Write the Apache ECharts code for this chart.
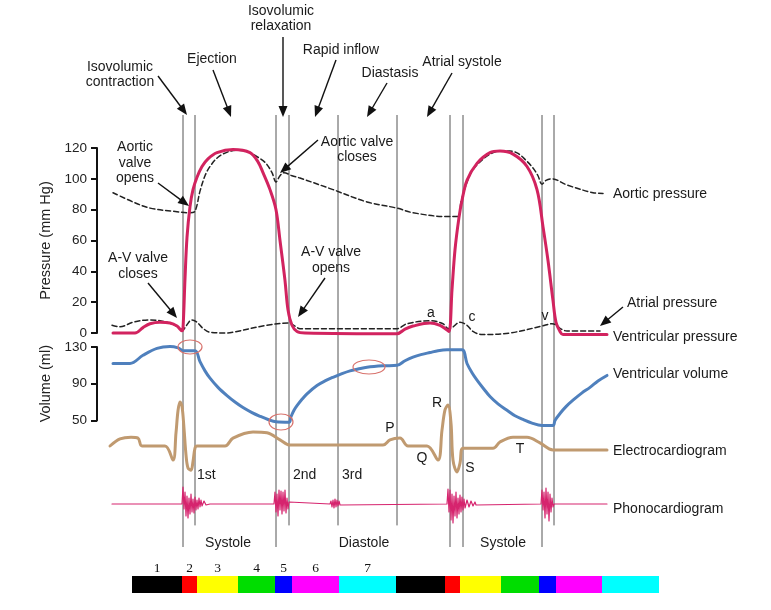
<!DOCTYPE html>
<html><head><meta charset="utf-8">
<script src="https://cdn.jsdelivr.net/npm/echarts@6/dist/echarts.min.js"></script>
<style>html,body{margin:0;padding:0;background:#fff}#c{width:771px;height:610px}</style>
</head><body><div id="c"></div>
<script>
// ---- DATA (time in arbitrary units along the cycle) ----
const ventricularPressure = [[113,0],[135,0],[143,3.5],[150,6],[160,7],[170,6.5],[177,4.5],[182,1.5],[183,3],[185,35],[187,62],[190,82],[193,93],[197,101],[202,108],[208,113],[217,117],[233,119],[250,117],[258,111],[263,104],[270,93],[276,80],[280,60],[285,34],[288,15],[292,5],[297,1],[305,0],[397,-0.5],[405,2.5],[413,4.5],[430,6.5],[440,5],[446,2.5],[449,1],[452,28],[455,54],[459,75],[462,86],[467,99],[477,110],[490,117],[500,118],[513,116],[527,108],[537,93],[543,69],[548,47],[553,21],[556,7],[560,1],[563,-1],[607,-1]];
const aorticPressure = [[113,91],[133,85],[150,81],[173,79],[190,78],[195,79],[200,92],[205,102],[210,108],[218,114],[228,117.5],[238,118.5],[248,117.5],[258,114],[266,110],[272,104],[276,98],[280,102],[284,104],[292,102],[300,100.5],[333,93],[367,85],[397,81],[413,78],[447,75.5],[458,75.5],[461,85],[466,96],[472,105],[480,111],[490,116],[500,118],[510,118],[518,116.5],[526,112],[533,107],[538,102],[542,96.5],[546,99],[552,100],[567,96],[593,91],[603,90.5]];
const atrialPressure = [[112,5],[120,4],[133,7],[150,8.5],[167,7],[178,4],[183,2],[186,4.5],[192,8.5],[197,7],[203,3],[210,0.5],[227,0],[233,0.5],[267,5],[289,6.5],[295,4.5],[300,2.8],[397,2.8],[407,6],[430,8],[443,6],[448,3],[452,3.5],[460,7],[467,5],[473,1],[482,-1],[510,0],[542,4.5],[552,6],[557,5],[560,3],[567,1.3],[600,1.3]];
const ventricularVolume = [[113,112],[130,112],[143,121],[157,128.5],[170,130.5],[178,129],[183,126],[195,126],[200,114],[205,104],[210,96],[218,86],[227,77],[235,70],[243,64],[252,58.5],[260,54.5],[268,51],[276,48.5],[289,48],[291,54],[294,61],[297,66],[302,73],[307,79],[317,88],[325,93],[333,97],[342,101],[350,104],[358,106],[367,108],[383,109.5],[397,110],[405,115],[413,119],[422,122],[430,124],[438,126],[447,127],[462,127],[467,112],[472,102],[477,94],[484,84],[490,76],[498,68],[507,61],[515,55],[523,51],[532,47],[542,44.5],[553,44.5],[555,50],[560,57.5],[566,65],[573,72],[582,80],[590,86],[598,93],[607,99]];
const electrocardiogram = [[110,0],[120,0.16],[131,0.2],[138,0.18],[142,0],[165,0],[173,-0.32],[176,0.3],[178,0.8],[180,1.0],[182,0.9],[184,0.4],[186,-0.2],[188,-0.5],[191,-0.55],[193,-0.35],[195,-0.05],[197,0],[225,0],[233,0.18],[253,0.32],[267,0.3],[280,0.14],[290,0.02],[383,0.02],[390,0.14],[400,0.18],[408,0],[427,0],[438,-0.32],[442,0.36],[445,0.82],[448,0.93],[451,0.52],[453,-0.32],[457,-0.59],[460,-0.39],[463,-0.05],[493,-0.05],[500,0.09],[513,0.2],[527,0.2],[540,0.07],[553,-0.09],[607,-0.09]];
const phonocardiogram = [[112,0],[182,0],[183,17],[184,-5],[185,12],[186,-12],[187,8],[188,-14],[189,6],[190,-10],[191,10],[192,-8],[193,5],[194,-9],[195,7],[196,-6],[197,4],[198,-5],[199,6],[200,-3],[201,4],[202,-2],[204,3],[206,-1],[208,1],[210,0],[274,0],[275,12],[276,-8],[277,10],[278,-12],[279,14],[280,-6],[281,13],[282,-10],[283,12],[284,-7],[285,14],[286,-9],[287,6],[288,-5],[289,2],[290,0],[330,0],[331,3],[332,-3],[333,4],[334,-4],[335,5],[336,-3],[337,4],[338,-2],[339,3],[340,-1],[342,0],[447,0],[448,15],[449,-8],[450,14],[451,-16],[452,10],[453,-19],[454,8],[455,-12],[456,12],[457,-14],[458,6],[459,-10],[460,9],[461,-8],[462,7],[463,-6],[464,5],[465,-4],[467,4],[469,-3],[471,3],[473,-2],[475,2],[476,-1],[477,0],[541,0],[542,14],[543,-6],[544,12],[545,-14],[546,16],[547,-10],[548,12],[549,-17],[550,10],[551,-8],[552,6],[553,-3],[554,0],[607,0]];
const eventTimes = [183,195,276,289,338,397,450,463,542,554];
const eventLineBottom = [0,0.05,0,0.05,0.05,0.05,0,0,0,0.05];
const phaseStart = [132,182,197,238,275,292,339,396,445,460,501,539,556,602];
const phaseEnd   = [182,197,238,275,292,339,396,445,460,501,539,556,602,659];
const phaseNumber = [1,2,3,4,5,6,7,1,2,3,4,5,6,7];
const phaseColors = ['#000000','#ff0000','#ffff00','#00dd00','#0000ff','#ff00ff','#00ffff'];
const pressureTicks = {min:0, max:120, interval:20};
const volumeTicks = {min:50, max:130, interval:40};

// ---- CHART ----
const FONT = '"Liberation Sans", Arial, sans-serif';
const chart = echarts.init(document.getElementById('c'), null, {renderer:'canvas'});
const grids = [
  {left:0,right:0,top:148,height:185},
  {left:0,right:0,top:347,height:73.4},
  {left:0,right:0,top:397.6,height:79.2},
  {left:0,right:0,top:484,height:40},
  {left:0,right:0,top:576,height:17},
  {left:0,right:0,top:115,height:432}
];
const xAxes = grids.map((g,i)=>({type:'value',gridIndex:i,min:0,max:771,show:false}));
function visibleY(i, t, name){
  return {type:'value',gridIndex:i,min:t.min,max:t.max,interval:t.interval,offset:-97,
    axisLine:{show:true,onZero:false,lineStyle:{color:'#111',width:2}},
    axisTick:{show:true,length:6,lineStyle:{color:'#111',width:2}},
    axisLabel:{fontSize:13.5,color:'#222',margin:10,fontFamily:FONT},
    splitLine:{show:false},
    name:name,nameLocation:'middle',nameGap:36,
    nameTextStyle:{fontSize:14.5,color:'#222',fontFamily:FONT}};
}
const yAxes = [
  visibleY(0, pressureTicks, 'Pressure (mm Hg)'),
  visibleY(1, volumeTicks, 'Volume (ml)'),
  {type:'value',gridIndex:2,min:-0.7,max:1.1,show:false},
  {type:'value',gridIndex:3,min:-20,max:20,show:false},
  {type:'value',gridIndex:4,min:0,max:1,show:false},
  {type:'value',gridIndex:5,min:0,max:1,show:false}
];

function lineSeries(name, data, gi, color, width, dashed, smooth){
  return {type:'line',name:name,data:data,xAxisIndex:gi,yAxisIndex:gi,showSymbol:false,symbol:'none',
    clip:false,smooth:smooth,z:3,silent:true,
    lineStyle:{color:color,width:width,type:dashed?[5,3]:'solid',cap:'round',join:'round'}};
}

const series = [
  {type:'custom',name:'events',xAxisIndex:5,yAxisIndex:5,z:1,silent:true,clip:false,
   data:eventTimes.map((t,i)=>[t,eventLineBottom[i]]),
   renderItem:(p,api)=>{const a=api.coord([api.value(0),1]);const b=api.coord([api.value(0),api.value(1)]);
     return {type:'line',shape:{x1:a[0],y1:a[1],x2:b[0],y2:b[1]},style:{stroke:'#555',lineWidth:1}};}},
  lineSeries('Aortic pressure', aorticPressure, 0, '#222', 1.5, true, 0.35),
  lineSeries('Atrial pressure', atrialPressure, 0, '#222', 1.5, true, 0.35),
  lineSeries('Ventricular pressure', ventricularPressure, 0, '#d2235f', 3, false, 0.35),
  lineSeries('Ventricular volume', ventricularVolume, 1, '#4f80bd', 3, false, 0.35),
  lineSeries('Electrocardiogram', electrocardiogram, 2, '#c09a70', 3, false, 0.35),
  lineSeries('Phonocardiogram', phonocardiogram, 3, '#d6246e', 1.2, false, false),
  {type:'custom',name:'phases',xAxisIndex:4,yAxisIndex:4,z:2,silent:true,clip:false,
   data:phaseStart.map((s,i)=>[s,phaseEnd[i],phaseNumber[i],i<7?1:0]),
   renderItem:(p,api)=>{
     const a=api.coord([api.value(0),1]);const b=api.coord([api.value(1),0]);
     const n=api.value(2);
     const children=[{type:'rect',shape:{x:a[0],y:a[1],width:b[0]-a[0],height:b[1]-a[1]},style:{fill:phaseColors[n-1]}}];
     if(api.value(3)){children.push({type:'text',x:(a[0]+b[0])/2,y:a[1]-8,
       style:{text:String(n),font:'13.5px "Liberation Serif", serif',fill:'#111',align:'center',verticalAlign:'middle',textAlign:'center',textVerticalAlign:'middle'}});}
     return {type:'group',children:children};
   }}
];

// ---- annotations ----
function txt(s,x,y,align){return {type:'text',x:x,y:y,silent:true,z:10,
  style:{text:s,font:'14px '+FONT,fill:'#1a1a1a',align:align||'center',verticalAlign:'middle',textAlign:align||'center',textVerticalAlign:'middle'}};}
function arrow(x1,y1,x2,y2){
  const dx=x2-x1,dy=y2-y1,L=Math.hypot(dx,dy),ux=dx/L,uy=dy/L,hl=11,hw=4.5;
  const bx=x2-ux*hl,by=y2-uy*hl;
  return [{type:'line',silent:true,z:10,shape:{x1:x1,y1:y1,x2:bx+ux*2,y2:by+uy*2},style:{stroke:'#111',lineWidth:1.4}},
    {type:'polygon',silent:true,z:10,shape:{points:[[x2,y2],[bx-uy*hw,by+ux*hw],[bx+uy*hw,by-ux*hw]]},style:{fill:'#111'}}];
}
function ring(cx,cy,rx,ry){return {type:'ellipse',silent:true,z:10,shape:{cx:cx,cy:cy,rx:rx,ry:ry},style:{fill:null,stroke:'#d8726c',lineWidth:1.2}};}

const graphics = [].concat(
  txt('Isovolumic',120,67), txt('contraction',120,82), arrow(158,76,187,115),
  txt('Ejection',212,59), arrow(213,70,231,117),
  txt('Isovolumic',281,11), txt('relaxation',281,26), arrow(283,37,283,117),
  txt('Rapid inflow',341,50), arrow(336,60,315,117),
  txt('Diastasis',390,73), arrow(387,83,367,117),
  txt('Atrial systole',462,62), arrow(452,73,427,117),
  txt('Aortic',135,147), txt('valve',135,163), txt('opens',135,178), arrow(158,183,189,206),
  txt('Aortic valve',357,142), txt('closes',357,157), arrow(318,140,280,173),
  txt('A-V valve',138,258), txt('closes',138,274), arrow(148,283,177,318),
  txt('A-V valve',331,252), txt('opens',331,268), arrow(325,278,298,317),
  txt('a',431,313), txt('c',472,317), txt('v',545,316),
  txt('Aortic pressure',613,194,'left'),
  txt('Atrial pressure',627,303,'left'), arrow(623,307,600,326),
  txt('Ventricular pressure',613,337,'left'),
  txt('Ventricular volume',613,374,'left'),
  txt('Electrocardiogram',613,451,'left'),
  txt('Phonocardiogram',613,509,'left'),
  txt('P',390,428), txt('Q',422,458), txt('R',437,403), txt('S',470,468), txt('T',520,449),
  txt('1st',197,475,'left'), txt('2nd',293,475,'left'), txt('3rd',342,475,'left'),
  txt('Systole',228,543), txt('Diastole',364,543), txt('Systole',503,543),
  ring(190,347,12,7), ring(281,422,12,8), ring(369,367,16,7)
);

chart.setOption({
  backgroundColor:'#ffffff',
  animation:false,
  grid:grids, xAxis:xAxes, yAxis:yAxes, series:series, graphic:graphics
});
</script></body></html>
